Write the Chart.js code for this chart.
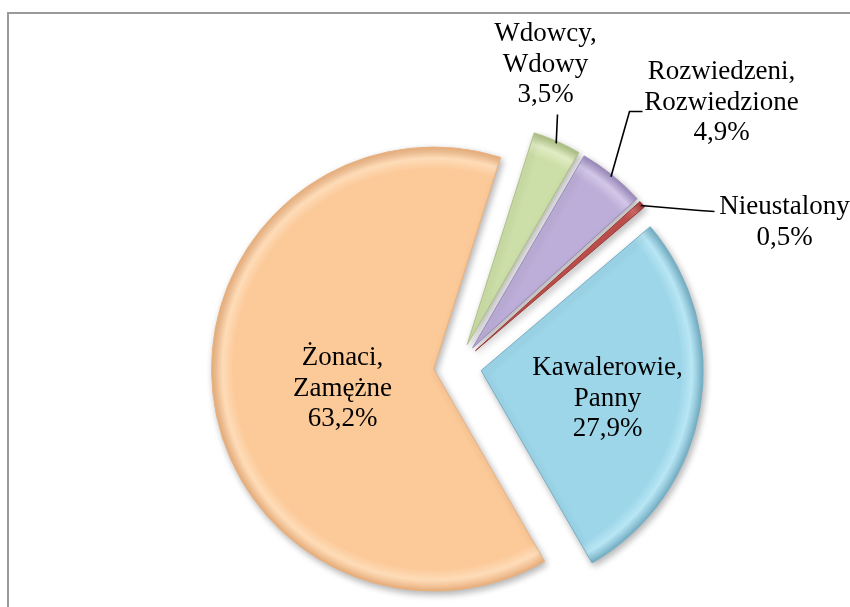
<!DOCTYPE html>
<html>
<head>
<meta charset="utf-8">
<script src="https://cdn.jsdelivr.net/npm/chart.js@4.4.1/dist/chart.umd.min.js"></script>
<style>
    body { margin: 0; background: #fff; }
    .frame { position: absolute; left: 7px; top: 12px; width: 900px; height: 700px; border: 2px solid #9a9a9a; }
    #chart { position: absolute; left: 0; top: 0; }
</style>
</head>
<body>
<div class="frame"></div>
<canvas id="chart" width="850" height="607"></canvas>
<script>
// data
const categories = [
    ['Kawalerowie,', 'Panny'],
    ['Żonaci,', 'Zamężne'],
    ['Wdowcy,', 'Wdowy'],
    ['Rozwiedzeni,', 'Rozwiedzione'],
    ['Nieustalony']
];
const shares = [27.9, 63.2, 3.5, 4.9, 0.5];

// styles
const baseColors = ['#9dd6e9', '#fcc998', '#cddfa8', '#bcaed8', '#c0504d'];
const lightColors = ['#b8e6f4', '#fedcb8', '#e0ecc4', '#d2c7e8', '#d06a66'];
const rimColors = ['#75afc5', '#eab07e', '#adc184', '#9a8abb', '#9a3a38'];
const EXPLODE = 24;
const RADIUS = 222;

// label centres relative to pie centre, leader points relative to label centre
const labelLayout = [
    { dx: 150, dy: 32 },
    { dx: -115, dy: 22 },
    { dx: 88, dy: -302, leader: [[12, 50]] },
    { dx: 264, dy: -264, leader: [[-92, 9], [-79, 9]] },
    { dx: 327, dy: -144, leader: [[-85, -12], [-70, -11]] }
];

const fmt = v => v.toFixed(1).replace('.', ',') + '%';

const explodePlugin = {
    id: 'explode',
    afterDatasetsUpdate(chart) {
        const ctx = chart.ctx;
        chart.getDatasetMeta(0).data.forEach((arc, i) => {
            const mid = (arc.startAngle + arc.endAngle) / 2;
            arc.x += Math.cos(mid) * EXPLODE;
            arc.y += Math.sin(mid) * EXPLODE;
            const g = ctx.createRadialGradient(arc.x, arc.y, 0, arc.x, arc.y, arc.outerRadius);
            g.addColorStop(0, baseColors[i]);
            g.addColorStop(0.9, baseColors[i]);
            g.addColorStop(0.95, lightColors[i]);
            g.addColorStop(1, rimColors[i]);
            arc.options = Object.assign({}, arc.options, { backgroundColor: g });
        });
    },
    beforeDatasetsDraw(chart) {
        const ctx = chart.ctx;
        ctx.save();
        ctx.shadowColor = 'rgba(0, 0, 0, 0.3)';
        ctx.shadowBlur = 7;
        ctx.shadowOffsetX = 2;
        ctx.shadowOffsetY = 3;
    },
    afterDatasetsDraw(chart) {
        chart.ctx.restore();
    }
};

const labelPlugin = {
    id: 'pieLabels',
    afterDraw(chart) {
        const ctx = chart.ctx;
        const area = chart.chartArea;
        const cx = (area.left + area.right) / 2;
        const cy = (area.top + area.bottom) / 2;
        const lineH = 30.5;
        ctx.save();
        ctx.font = '27px "Liberation Serif", "Times New Roman", serif';
        ctx.fillStyle = '#000';
        ctx.strokeStyle = '#000';
        ctx.lineWidth = 1.6;
        ctx.textAlign = 'center';
        ctx.textBaseline = 'middle';
        chart.getDatasetMeta(0).data.forEach((arc, i) => {
            const lay = labelLayout[i];
            const lx = cx + lay.dx;
            const ly = cy + lay.dy;
            const lines = categories[i].concat([fmt(shares[i])]);
            const top = ly - (lines.length - 1) * lineH / 2;
            lines.forEach((t, k) => ctx.fillText(t, lx, top + k * lineH));

            if (lay.leader) {
                const mid = (arc.startAngle + arc.endAngle) / 2;
                ctx.beginPath();
                ctx.moveTo(arc.x + Math.cos(mid) * (arc.outerRadius - 2), arc.y + Math.sin(mid) * (arc.outerRadius - 2));
                lay.leader.forEach(p => ctx.lineTo(lx + p[0], ly + p[1]));
                ctx.stroke();
            }
        });
        ctx.restore();
    }
};

new Chart(document.getElementById('chart'), {
    type: 'pie',
    data: {
        labels: categories.map(c => c.join(' ')),
        datasets: [{
            data: shares,
            backgroundColor: baseColors,
            borderColor: rimColors,
            borderWidth: 1,
            offset: 0
        }]
    },
    options: {
        responsive: false,
        animation: false,
        events: [],
        rotation: 49.6,
        radius: RADIUS,
        layout: { padding: { left: 65, top: 126, right: 0, bottom: 0 } },
        plugins: {
            legend: { display: false },
            tooltip: { enabled: false }
        }
    },
    plugins: [explodePlugin, labelPlugin]
});
</script>
</body>
</html>
